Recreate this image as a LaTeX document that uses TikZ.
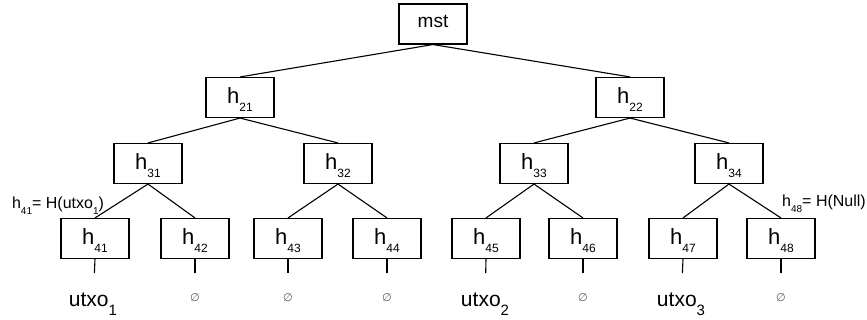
\documentclass[tikz,border=0pt]{standalone}
\usepackage{fontspec}
\setmainfont{Liberation Sans}
\newfontfamily\symfont{DejaVu Sans}
\usetikzlibrary{calc}

\newcommand{\sub}[2][12]{\raisebox{-0.62\dimexpr#1pt\relax}{\fontsize{#1}{#1}\selectfont #2}}
\newcommand{\nullset}{{\symfont\fontsize{11}{11}\selectfont\color{black!65}∅}}

\tikzset{
    hashbox/.style={draw, line width=1.1pt, minimum width=68pt, minimum height=40pt,
        inner sep=0pt, text height=18pt, text depth=5pt, font=\fontsize{22}{22}\selectfont},
    rootbox/.style={hashbox, text height=10pt, text depth=3.4pt, font=\fontsize{19}{19}\selectfont},
    leaf/.style={inner sep=0pt, anchor=base, font=\fontsize{21}{21}\selectfont},
    note/.style={inner sep=0pt, anchor=base, font=\fontsize{16}{16}\selectfont},
}

\begin{document}
\begin{tikzpicture}[x=1pt, y=-1pt, line width=1.1pt]
        \useasboundingbox (0,0) rectangle (867,320);

        % Draw the root and the inner hashes
        \node[rootbox] (mst) at (433,24) {mst};
        \node[hashbox] (h21) at (240,97.5) {h\sub{21}};
        \node[hashbox] (h22) at (630,97.5) {h\sub{22}};
        \node[hashbox] (h31) at (148,163.5) {h\sub{31}};
        \node[hashbox] (h32) at (338,163.5) {h\sub{32}};
        \node[hashbox] (h33) at (534,163.5) {h\sub{33}};
        \node[hashbox] (h34) at (729,163.5) {h\sub{34}};

        % Draw the leaf hashes
        \foreach \i/\x in {1/95, 2/195, 3/288, 4/387, 5/486, 6/583, 7/683, 8/781} {
            \node[hashbox] (h4\i) at (\x,238.5) {h\sub{4\i}};
        }

        % Connect every parent with its two children
        \foreach \p/\c in {mst/h21, mst/h22, h21/h31, h21/h32, h22/h33, h22/h34,
                h31/h41, h31/h42, h32/h43, h32/h44, h33/h45, h33/h46, h34/h47, h34/h48} {
            \draw (\p.south) -- (\c.north);
        }

        % Label the leaves
        \node[leaf] (l1) at (93,306.7) {utxo\sub[15]{1}};
        \node[leaf] (l5) at (485,306.7) {utxo\sub[15]{2}};
        \node[leaf] (l7) at (681,306.7) {utxo\sub[15]{3}};
        \foreach \i/\x in {2/195, 3/288, 4/387, 6/583, 8/781} {
            \node[inner sep=0pt] (l\i) at (\x,298) {\nullset};
        }

        % Short ticks from each leaf to its label
        \foreach \i in {1,...,8} {
            \draw (h4\i.south) -- ($(h4\i.south)!14pt!(l\i)$);
        }

        % Notes on the outer leaves
        \node[note] (n41) at (58,208.3) {h\sub[10]{41}= H(utxo\sub[10]{1})};
        \node[note] (n48) at (824,206.7) {h\sub[10]{48}= H(Null)};
\end{tikzpicture}
\end{document}
